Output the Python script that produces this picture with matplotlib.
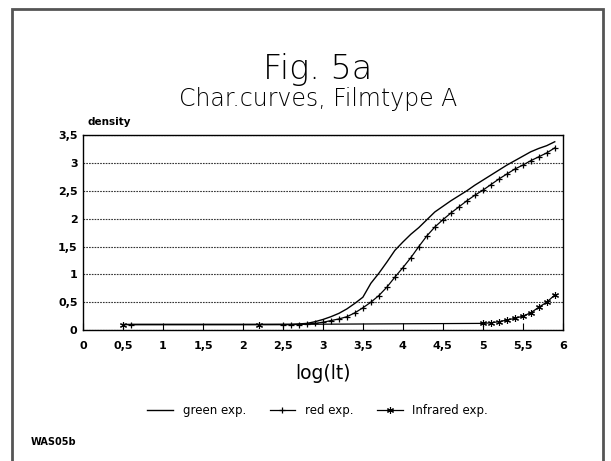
import numpy as np
import matplotlib.pyplot as plt
from matplotlib.patches import Rectangle

# data (density vs log(lt))
x_ir = [0.5, 2.2, 5.0, 5.1, 5.2, 5.3, 5.4, 5.5, 5.6, 5.7, 5.8, 5.9]
ir = [0.1, 0.1, 0.12, 0.13, 0.15, 0.18, 0.21, 0.25, 0.31, 0.41, 0.5, 0.63]

x_red = [0.6, 2.5, 2.6, 2.7, 2.8, 2.9, 3.0, 3.1, 3.2, 3.3, 3.4, 3.5, 3.6, 3.7, 3.8,
         3.9, 4.0, 4.1, 4.2, 4.3, 4.4, 4.5, 4.6, 4.7, 4.8, 4.9, 5.0, 5.1, 5.2,
         5.3, 5.4, 5.5, 5.6, 5.7, 5.8, 5.9]
red = [0.1, 0.1, 0.1, 0.1, 0.11, 0.12, 0.14, 0.17, 0.2, 0.24, 0.31, 0.4, 0.5, 0.62,
       0.77, 0.95, 1.12, 1.3, 1.5, 1.69, 1.85, 1.98, 2.1, 2.21, 2.32, 2.42, 2.51,
       2.61, 2.71, 2.8, 2.89, 2.96, 3.04, 3.11, 3.18, 3.27]

x_green = [0.5, 2.5, 2.6, 2.7, 2.8, 2.9, 3.0, 3.1, 3.2, 3.3, 3.4, 3.5, 3.6, 3.7, 3.8,
           3.9, 4.0, 4.1, 4.2, 4.3, 4.4, 4.5, 4.6, 4.7, 4.8, 4.9, 5.0, 5.1, 5.2,
           5.3, 5.4, 5.5, 5.6, 5.7, 5.8, 5.9]
green = [0.1, 0.1, 0.1, 0.11, 0.12, 0.15, 0.19, 0.24, 0.3, 0.38, 0.48, 0.59, 0.84,
         1.02, 1.22, 1.43, 1.58, 1.72, 1.84, 1.98, 2.12, 2.22, 2.32, 2.41, 2.5,
         2.6, 2.69, 2.78, 2.87, 2.96, 3.04, 3.12, 3.2, 3.26, 3.31, 3.38]

xticks = [0, 0.5, 1, 1.5, 2, 2.5, 3, 3.5, 4, 4.5, 5, 5.5, 6]
yticks = [0, 0.5, 1, 1.5, 2, 2.5, 3, 3.5]

plt.rcParams['font.family'] = ['DejaVu Sans']

fig = plt.figure(figsize=(6.11, 4.61), dpi=100)
fig.patches.append(Rectangle((0.02, -0.02), 0.967, 1.0, transform=fig.transFigure,
                             fill=False, edgecolor='#555555', linewidth=2.0))

ax = fig.add_axes([0.136, 0.284, 0.785, 0.423])
ax.plot(x_green, green, color='black', linewidth=1.0, label='green exp.')
ax.plot(x_red, red, color='black', linewidth=0.9, marker='+', markersize=5,
        markeredgewidth=0.9, label='red exp.')
ax.plot(x_ir, ir, color='black', linewidth=0.9, marker=(6, 2, 0), markersize=5,
        markeredgewidth=0.8, label='Infrared exp.')

ax.set_xlim(0, 6)
ax.set_ylim(0, 3.5)
ax.set_xticks(xticks)
ax.set_xticklabels([str(t).replace('.', ',') for t in xticks], fontsize=8,
                   fontweight='bold')
ax.set_yticks(yticks)
ax.set_yticklabels([str(t).replace('.', ',') for t in yticks], fontsize=8,
                   fontweight='bold')
ax.tick_params(axis='x', direction='in', length=5, width=0.8, pad=8)
ax.tick_params(axis='y', length=0, pad=4)
ax.grid(axis='y', linestyle=(0, (1.5, 1)), color='#333333', linewidth=0.8)
for s in ax.spines.values():
    s.set_linewidth(1.0)

ax.set_xlabel('log(lt)', fontsize=13.5, labelpad=9)
ax.text(0.01, 1.04, 'density', transform=ax.transAxes, fontsize=7.5,
        fontweight='bold', ha='left', va='bottom')

fig.text(0.52, 0.85, 'Fig. 5a', ha='center', va='center', fontsize=24,
         fontweight='light', color='black')
fig.text(0.52, 0.785, 'Char.curves, Filmtype A', ha='center', va='center',
         fontsize=17, fontweight='light', color='black')

fig.legend(loc='center', bbox_to_anchor=(0.52, 0.11), ncol=3, frameon=False,
           fontsize=8.5, handlelength=2.2, numpoints=1, columnspacing=2.0)

fig.text(0.05, 0.035, 'WAS05b', fontsize=7, fontweight='bold')

fig.savefig('out.png', dpi=100)
